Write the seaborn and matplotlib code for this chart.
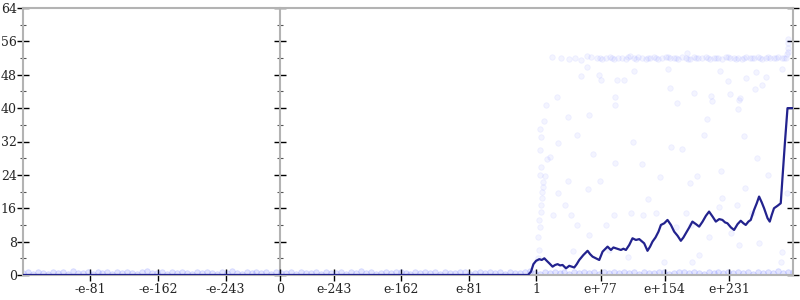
import numpy as np
import pandas as pd
import matplotlib
matplotlib.use("Agg")
import matplotlib.pyplot as plt
import seaborn as sns

# ---------------- data ----------------
# x is measured in decimal-exponent steps of the float bit pattern:
# 0 -> 0, 1 -> 308, largest double -> 616, -1 -> -308
tick_pos = [-227, -146, -65, 0, 65, 146, 227, 308, 385, 462, 539]
tick_labels = ["-e-81", "-e-162", "-e-243", "0", "e-243", "e-162", "e-81",
               "1", "e+77", "e+154", "e+231"]
y_ticks = [0, 8, 16, 24, 32, 40, 48, 56, 64]

# moving-average line
line_x = [-308, 298, 301.6, 304.5, 307.7, 311.6, 314.5, 317.6, 320.5, 323.6, 327.5,
          330.5, 333.5, 336.5, 339.5, 343.6, 347.5, 350.5, 353.5, 356.5, 359.5,
          364.5, 369.5, 372.5, 375.5, 379.5, 383.5, 387.5, 390.5, 393.5, 397.5,
          400.5, 403.5, 406.5, 409.5, 412.5, 415.5, 419.5, 423.4, 427.5, 431.5,
          437.4, 441.4, 444.5, 447.4, 451.0, 454.6, 457.5, 461.5, 465.4, 469.5,
          473.4, 477.5, 481.4, 484.5, 487.4, 491.5, 495.3, 499.5, 503.4, 507.5,
          511.5, 515.3, 519.5, 523.4, 527.5, 531.3, 534.5, 537.3, 541.5, 545.3,
          549.5, 553.3, 556.5, 559.3, 562.5, 565.3, 569.3, 572.5, 575.3, 578.5,
          581.3, 585.5, 588.1, 590.5, 593.2, 597.5, 601.3, 603.2, 606.4, 609.4,
          616]
line_y = [0.0, 0.0, 0.8, 2.6, 3.4, 3.8, 3.6, 4.0, 3.4, 2.8, 2.0,
          2.4, 2.6, 2.3, 2.4, 1.6, 2.2, 2.0, 1.8, 2.6, 3.6,
          4.8, 5.8, 5.0, 4.4, 4.0, 3.6, 5.6, 6.2, 6.8, 6.0,
          6.6, 6.4, 6.2, 6.0, 6.3, 6.0, 7.2, 8.8, 8.4, 8.6,
          7.6, 5.8, 6.8, 8.0, 9.0, 10.4, 12.0, 12.4, 13.2, 12.0,
          10.4, 9.4, 8.2, 9.0, 10.0, 11.4, 12.8, 12.2, 11.6, 12.8,
          14.2, 15.2, 14.0, 12.8, 13.4, 13.2, 12.6, 12.4, 11.4, 10.8,
          12.2, 13.0, 12.4, 12.0, 12.8, 13.2, 15.6, 17.2, 18.8, 17.4,
          16.0, 13.6, 12.8, 14.4, 16.0, 16.6, 17.2, 22.8, 32.0, 40.0,
          40.0]

# baseline samples (values near zero), evenly spread over the axis
baseline_y = [0.4, 0.6, 0.3, 0.7, 0.5, 0.2, 0.8, 0.4, 0.6, 0.3, 0.9, 0.5,
              0.4, 0.7, 0.3, 0.6, 0.5, 0.8, 0.2, 0.6, 0.4, 0.7, 0.5, 0.3,
              0.6, 0.9, 0.4, 0.5, 0.7, 0.3, 0.6, 0.4, 0.8, 0.5, 0.2, 0.6,
              0.4, 0.7, 0.5, 0.3, 0.6, 0.4, 0.9, 0.5, 0.3, 0.7, 0.4, 0.6,
              0.5, 0.8, 0.3, 0.6, 0.4, 0.5, 0.7, 0.2, 0.6, 0.4, 0.5, 0.8,
              0.3, 0.6, 0.5, 0.4, 0.7, 0.3, 0.6, 0.5, 0.9, 0.4, 0.6, 0.3,
              0.5, 0.7, 0.4, 0.6, 0.8, 0.5, 0.3, 0.6, 0.4, 0.7, 0.5, 0.6,
              0.3, 0.8, 0.5, 0.4, 0.6, 0.7, 0.3, 0.5, 0.6, 0.4, 0.8, 0.5,
              0.6, 0.3, 0.7, 0.5, 0.4, 0.6, 0.9, 0.5, 0.3, 0.7, 0.4, 0.6,
              0.5, 0.8, 0.3, 0.6, 0.4, 0.7, 0.5, 0.6, 0.3, 0.8, 0.4, 0.6,
              0.5, 0.7, 0.4, 0.6, 0.3, 0.8, 0.5, 0.4, 0.7, 0.6, 0.3, 0.5,
              0.6, 0.8, 0.4, 0.7, 0.5, 0.3, 0.6, 0.5, 0.7, 0.4, 0.6, 0.5,
              0.8, 0.4, 0.6, 0.3, 0.7, 0.5, 0.6, 0.4, 0.9, 0.5, 0.6, 0.7]

# upper band of slow cases
band_x = [327.2, 338.0, 347.6, 354.7, 361.9, 369.1, 373.9, 381.1, 387.1, 391.9,
          396.7, 401.5, 406.3, 411.1, 415.9, 420.7, 425.5, 430.2, 435.0, 439.8,
          444.6, 449.4, 454.2, 459.0, 463.8, 468.6, 473.4, 478.2, 483.0, 487.8,
          492.6, 497.4, 502.2, 507.0, 511.7, 516.5, 521.3, 526.1, 530.9, 535.7,
          540.5, 545.3, 550.1, 554.9, 559.7, 564.5, 569.3, 574.1, 578.8, 583.6,
          588.4, 593.2, 598.0, 602.8, 607.6, 384.0, 399.0, 418.0, 428.0, 442.0,
          452.0, 466.0, 476.0, 490.0, 500.0, 514.0, 524.0, 538.0, 548.0, 557.0,
          567.0, 576.0, 586.0, 596.0, 605.0, 609.0, 610.0, 610.0, 610.0, 610.5]
band_y = [52.3, 52.0, 51.8, 52.1, 51.6, 52.4, 52.2, 51.9, 51.8, 52.0,
          52.3, 51.7, 52.1, 52.0, 51.8, 52.4, 51.9, 52.2, 52.0, 51.7,
          52.1, 52.3, 51.8, 52.0, 52.2, 51.9, 52.1, 51.7, 52.3, 52.0,
          51.8, 52.2, 52.0, 51.9, 52.3, 51.8, 52.1, 52.0, 51.7, 52.2,
          51.9, 52.1, 52.0, 51.8, 52.3, 51.9, 52.0, 52.2, 51.8, 52.1,
          51.9, 52.0, 52.2, 51.9, 52.1, 51.9, 52.0, 52.2, 51.8, 52.1,
          51.9, 52.2, 52.0, 51.8, 52.1, 52.0, 51.9, 52.2, 51.8, 52.0,
          52.1, 51.9, 52.2, 52.0, 52.1, 53.0, 56.5, 55.5, 54.5, 53.5]

# sparse scattered cases
sparse_x = [369.1, 361.6, 383.5, 385.5, 405.1, 413.5, 425.5, 465.4, 468.2, 497.4,
            517.4, 528.5, 538.5, 540.1, 559.3, 571.3, 570.5, 583.3, 579.2, 602.5,
            552.5, 332.3, 402.7, 489.0, 319.6, 402.3, 477.3, 519.3, 551.3, 317.6,
            345.5, 371.5, 550.5, 513.3, 356.3, 423.4, 509.4, 557.3, 334.4, 320.3,
            324.4, 376.3, 469.4, 483.3, 573.2, 402.7, 434.2, 318.4, 456.6, 501.3,
            529.4, 586.4, 345.5, 384.7, 315.6, 492.6, 369.5, 558.1, 315.6, 314.8,
            333.5, 314.8, 531.3, 608.6, 441.4, 313.6, 313.6, 311.6, 312.4, 310.4,
            310.8, 309.6, 342.4, 349.6, 356.8, 391.5, 401.5, 421.5, 435.4, 451.5,
            493.4, 475.4, 487.4, 527.3, 548.5, 567.2, 541.3, 515.3, 461.4, 495.3,
            503.4, 417.4, 551.3, 575.3, 603.2, 601.3, 352.3, 395.5, 371.5, 327.5,
            312.5, 313.0, 312.8, 313.4, 312.2]
sparse_y = [49.9, 47.7, 47.9, 46.7, 46.7, 46.7, 48.9, 49.3, 44.9, 43.7,
            43.0, 48.9, 46.6, 43.4, 47.2, 48.7, 44.7, 47.4, 45.5, 49.3,
            42.4, 42.7, 42.7, 53.3, 40.8, 40.8, 41.2, 41.6, 42.0, 36.8,
            37.8, 38.4, 39.7, 37.4, 33.6, 32.0, 33.5, 33.2, 31.6, 27.7,
            28.4, 29.0, 30.6, 30.2, 28.1, 26.8, 26.6, 23.7, 23.6, 23.8,
            25.0, 24.0, 22.6, 22.6, 22.4, 22.0, 20.5, 20.8, 21.0, 20.0,
            19.6, 18.4, 18.4, 19.6, 18.1, 16.8, 15.0, 13.2, 11.6, 9.2,
            6.0, 4.1, 16.8, 14.4, 12.0, 12.0, 14.4, 14.8, 14.4, 14.8,
            12.0, 11.6, 14.8, 16.4, 16.8, 14.8, 10.0, 9.2, 3.2, 3.2,
            4.8, 4.4, 7.2, 7.6, 5.6, 3.2, 5.8, 6.0, 9.6, 14.4,
            24.0, 26.0, 30.0, 33.0, 35.0]

# ---------------- figure ----------------
sns.set_theme(style="white")
plt.rcParams["font.family"] = ["DejaVu Serif"]

fig = plt.figure(figsize=(8, 3), dpi=100)
ax = fig.add_axes([23 / 800, 1 - 275 / 300, 770 / 800, 267 / 300])

base = pd.DataFrame({"x": np.linspace(-308, 616, len(baseline_y)), "y": baseline_y})
sns.scatterplot(data=base, x="x", y="y", ax=ax, s=16, color="#3344ff",
                alpha=0.14, edgecolor="#3344ff", linewidth=0.6, zorder=2)

pts = pd.DataFrame({"x": band_x + sparse_x, "y": band_y + sparse_y})
sns.scatterplot(data=pts, x="x", y="y", ax=ax, s=16, color="#3344ff",
                alpha=0.06, edgecolor="#3344ff", linewidth=0.6, zorder=2)

ln = pd.DataFrame({"x": line_x, "y": line_y})
sns.lineplot(data=ln, x="x", y="y", ax=ax, sort=False, estimator=None,
             color="#23238e", linewidth=1.6, zorder=3)

ax.set_xlim(-308, 616)
ax.set_ylim(0, 64)
ax.set_xlabel("")
ax.set_ylabel("")

ax.set_xticks(tick_pos)
ax.set_xticklabels(tick_labels)
ax.set_yticks(y_ticks)
ax.set_yticks([4, 12, 20, 28, 36, 44, 52, 60], minor=True)

gray = "#b3b3b3"
for side in ["left", "right", "top", "bottom"]:
    ax.spines[side].set_visible(True)
    ax.spines[side].set_color(gray)
    ax.spines[side].set_linewidth(1.5)

ax.tick_params(axis="both", which="major", direction="inout", length=8,
               width=1, color="black", labelsize=9)
ax.tick_params(axis="y", which="major", pad=0.5)
ax.tick_params(axis="x", which="major", pad=2)
ax.tick_params(axis="y", which="minor", direction="inout", length=4.5,
               width=0.8, color="#555555")
ax.tick_params(axis="y", which="both", left=True, right=True)
ax.tick_params(axis="x", which="both", bottom=True, top=False)

# middle axis at x = 0
sec = ax.secondary_yaxis(308 / 924)
sec.set_yticks(y_ticks)
sec.set_yticks([4, 12, 20, 28, 36, 44, 52, 60], minor=True)
sec.tick_params(which="major", direction="inout", length=8, width=1, color="black",
                labelleft=False, labelright=False)
sec.tick_params(which="minor", direction="inout", length=4.5, width=0.8, color="#555555")
for sp in sec.spines.values():
    sp.set_color(gray)
    sp.set_linewidth(1.5)

fig.savefig("out.png", dpi=100)
